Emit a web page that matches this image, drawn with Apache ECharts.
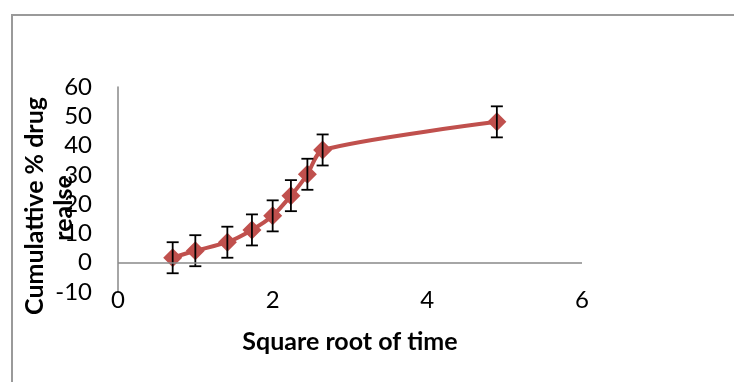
<!DOCTYPE html>
<html>
<head>
<meta charset="utf-8">
<script src="https://cdn.jsdelivr.net/npm/echarts@6/dist/echarts.min.js"></script>
<style>
html,body{margin:0;padding:0;background:#fff;}
#chart{width:734px;height:382px;}
</style>
</head>
<body>
<div id="chart"></div>
<script>
// Data
var xValues = [0.707, 1.0, 1.414, 1.732, 2.0, 2.236, 2.449, 2.646, 4.899];
var yValues = [1.7, 4.1, 7.0, 11.2, 16.0, 22.9, 30.2, 38.5, 48.1];
var errValues = [5.3, 5.3, 5.3, 5.3, 5.3, 5.3, 5.3, 5.3, 5.3];
var xTicks = [0, 2, 4, 6];
var yTicks = [-10, 0, 10, 20, 30, 40, 50, 60];
var xTitle = 'Square root of time';
var yTitleLine1 = 'Cumulattive % drug';
var yTitleLine2 = 'realse';

var points = xValues.map(function (x, i) { return [x, yValues[i]]; });
var errData = xValues.map(function (x, i) { return [x, yValues[i] - errValues[i], yValues[i] + errValues[i]]; });

var font = 'Lato, "Open Sans", sans-serif';
var chart = echarts.init(document.getElementById('chart'), null, {renderer: 'canvas'});
chart.setOption({
  animation: false,
  backgroundColor: '#ffffff',
  grid: {left: 118, right: 734 - 582, top: 87, bottom: 382 - 292, containLabel: false},
  graphic: [
    {type: 'rect', shape: {x: 12, y: 15, width: 740, height: 400}, style: {fill: 'none', stroke: '#9a9a9a', lineWidth: 2}, silent: true, z: -10},
    {type: 'text', x: 35, y: 206, rotation: Math.PI / 2, style: {text: yTitleLine1, font: 'bold 25px ' + font, fill: '#000', textAlign: 'center', textVerticalAlign: 'middle'}},
    {type: 'text', x: 64, y: 208, rotation: Math.PI / 2, style: {text: yTitleLine2, font: 'bold 25px ' + font, fill: '#000', textAlign: 'center', textVerticalAlign: 'middle'}}
  ],
  xAxis: {
    type: 'value', min: xTicks[0], max: xTicks[xTicks.length - 1], interval: 2,
    axisLine: {show: false}, axisTick: {show: false}, splitLine: {show: false},
    axisLabel: {fontSize: 24, fontFamily: font, color: '#000', margin: -4},
    name: xTitle, nameLocation: 'middle', nameGap: 37,
    nameTextStyle: {fontSize: 25, fontWeight: 'bold', fontFamily: font, color: '#000'}
  },
  yAxis: {
    type: 'value', min: yTicks[0], max: yTicks[yTicks.length - 1], interval: 10,
    axisLine: {show: true, onZero: false, lineStyle: {color: '#888888', width: 1.5}},
    axisTick: {show: false}, splitLine: {show: false},
    axisLabel: {fontSize: 24, fontFamily: font, color: '#000', margin: 26}
  },
  series: [
    {
      type: 'line', data: points, smooth: 0.25,
      symbol: 'diamond', symbolSize: 19,
      lineStyle: {color: '#C0504D', width: 4},
      itemStyle: {color: '#C0504D', borderWidth: 0},
      z: 3,
      markLine: {
        silent: true, symbol: 'none', label: {show: false},
        lineStyle: {color: '#888888', width: 1.5, type: 'solid'},
        data: [{yAxis: 0}]
      }
    },
    {
      type: 'custom', data: errData, z: 4,
      renderItem: function (params, api) {
        var x = api.value(0);
        var lo = api.coord([x, api.value(1)]);
        var hi = api.coord([x, api.value(2)]);
        var cap = 6;
        var st = {stroke: '#000', lineWidth: 1.8};
        return {type: 'group', children: [
          {type: 'line', shape: {x1: lo[0], y1: lo[1], x2: hi[0], y2: hi[1]}, style: st},
          {type: 'line', shape: {x1: lo[0] - cap, y1: lo[1], x2: lo[0] + cap, y2: lo[1]}, style: st},
          {type: 'line', shape: {x1: hi[0] - cap, y1: hi[1], x2: hi[0] + cap, y2: hi[1]}, style: st}
        ]};
      }
    }
  ]
});
</script>
</body>
</html>
